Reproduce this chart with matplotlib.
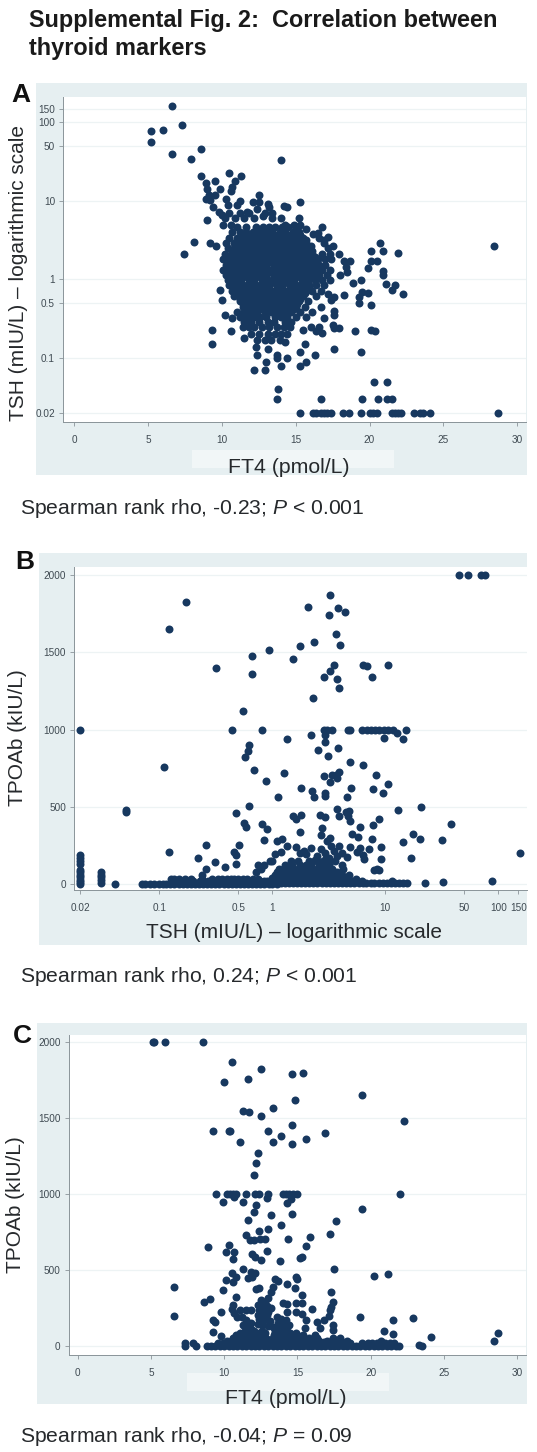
import matplotlib
matplotlib.use("Agg")
import matplotlib.pyplot as plt
from matplotlib.patches import Rectangle

plt.rcParams['font.family'] = ['Liberation Sans', 'DejaVu Sans']
plt.rcParams['mathtext.fontset'] = 'custom'
plt.rcParams['mathtext.rm'] = 'Liberation Sans'
plt.rcParams['mathtext.it'] = 'Liberation Sans:italic'
plt.rcParams['mathtext.bf'] = 'Liberation Sans:bold'

# ---------- labels ----------
title_text = "Supplemental Fig. 2:  Correlation between\nthyroid markers"
caption_a = "Spearman rank rho, -0.23; $\\mathit{P}$ < 0.001"
caption_b = "Spearman rank rho, 0.24; $\\mathit{P}$ < 0.001"
caption_c = "Spearman rank rho, -0.04; $\\mathit{P}$ = 0.09"
ft4_ticks = [0, 5, 10, 15, 20, 25, 30]
tsh_ticks = [0.02, 0.1, 0.5, 1, 10, 50, 100, 150]
tsh_tick_labels = ["0.02", "0.1", "0.5", "1", "10", "50", "100", "150"]
tpo_ticks = [0, 500, 1000, 1500, 2000]

# ---------- panel A: isolated points (FT4, TSH) ----------
ft4_a = [6.6,7.3,5.2,6.0,5.2,6.6,7.9,8.6,14.0,8.6,10.5,11.3,10.9,9.5,8.9,9.0,9.9,10.7,10.6,9.1,9.5,8.9,9.2,10.3,12.5,15.3,11.2,12.1,13.1,14.2,14.4,9.4,10.4,11.0,12.5,12.4,13.2,9.0,9.8,10.0,15.2,12.8,11.7,
 16.8,16.2,17.2,16.9,17.5,8.1,9.2,9.6,7.4,20.7,20.1,20.9,21.9,28.4,20.5,20.1,19.9,18.7,18.3,18.4,18.5,17.9,18.0,20.9,20.9,21.1,21.7,21.5,22.3,19.4,18.9,19.9,19.5,19.3,19.3,20.1,18.3,17.6,17.2,17.4,17.6,17.6,16.7,16.9,17.5,17.9,17.6,19.0,20.1,20.4,
 9.9,10.0,10.2,10.7,9.3,10.6,9.3,11.5,12.3,12.4,13.1,13.0,13.7,13.7,14.4,14.0,12.2,12.9,15.3,15.6,15.7,15.3,16.3,14.3,17.6,19.4,15.5,16.0,16.6,16.4,16.8,
 13.8,13.7,16.7,19.5,20.3,21.2,20.6,21.2,21.5,
 15.3,16.2,16.4,16.7,16.9,17.1,17.4,18.2,18.6,19.4,20.0,20.2,20.5,21.5,21.7,21.9,22.1,23.0,23.4,23.6,24.1,28.7,
 11.4,11.8,12.2,12.7,13.2,13.7,14.2,14.6,12.0,12.5,13.1,13.6,14.0,14.4,12.4,12.9,13.3,13.9,
 10.5,11.2,11.8,12.9,13.4,10.2,10.9,11.5,12.2,13.4,14.0,10.1,10.6,14.3,14.9,15.3,15.7,16.5]
tsh_a = [161,93,77,79,56,40,34,46,33,21,23,21,18,18,17,14,14,15,13.5,11.8,11.8,10.7,10.2,10.5,11.8,9.7,10,9.7,9.2,8.7,8.5,8.4,8.8,8.8,9.7,8,8.4,5.8,7.2,6.6,6.1,6.4,7.2,
 4.6,3.8,3.5,3.2,2.7,3.0,2.9,2.7,2.1,2.9,2.3,2.3,2.2,2.7,1.7,1.7,1.4,1.7,1.7,1.45,1.25,2.1,1.14,1.3,1.14,0.87,0.85,0.73,0.66,0.98,0.89,0.68,0.7,0.6,0.5,0.47,0.63,0.6,0.66,0.55,0.4,0.35,0.45,0.32,0.26,0.24,0.24,0.22,0.23,0.22,
 0.73,0.55,0.35,0.32,0.23,0.22,0.15,0.18,0.14,0.11,0.13,0.09,0.11,0.1,0.1,0.08,0.07,0.07,0.12,0.15,0.09,0.08,0.11,0.16,0.13,0.12,0.23,0.25,0.25,0.22,0.21,
 0.04,0.03,0.03,0.03,0.05,0.05,0.03,0.03,0.03,
 0.02,0.02,0.02,0.02,0.02,0.02,0.02,0.02,0.02,0.02,0.02,0.02,0.02,0.02,0.02,0.02,0.02,0.02,0.02,0.02,0.02,0.02,
 0.25,0.25,0.25,0.25,0.25,0.25,0.25,0.25,0.2,0.2,0.2,0.2,0.2,0.2,0.17,0.17,0.17,0.17,
 7,7,7,7,7,6,6,6,6,6,6,5,5,5,5,5,4.4,3.9]

# panel A: dense core, read as horizontal rows
tsh_a_rows = [4.7,4.0,3.4,2.9,2.5,2.1,1.8,1.55,1.32,1.14,0.98,0.84,0.72,0.62,0.53,0.45,0.39,0.33,0.29,
              3.7,3.15,2.7,2.3,1.95,1.67,1.43,1.23,1.06,0.91,0.78,0.67,0.57,0.49,0.42]
ft4_a_rows = [
 [11.0,11.6,12.3,12.8,13.2,13.6,14.1,14.5,15.0],
 [10.7,11.2,11.6,12.1,12.5,13.0,13.4,13.9,14.3,14.8,15.2],
 [10.5,11.0,11.4,11.9,12.3,12.8,13.2,13.7,14.1,14.6,15.0,15.5,16.6],
 [10.3,10.8,11.2,11.7,12.1,12.6,13.0,13.5,13.9,14.4,14.8,15.3,15.7,16.9],
 [10.4,10.9,11.3,11.8,12.2,12.7,13.1,13.6,14.0,14.5,14.9,15.4,15.8,17.2],
 [10.2,10.7,11.1,11.6,12.0,12.5,12.9,13.4,13.8,14.3,14.7,15.2,15.6,16.1,16.8,17.3],
 [10.1,10.5,11.0,11.4,11.9,12.3,12.8,13.2,13.7,14.1,14.6,15.0,15.5,15.9,16.5,17.0,17.4],
 [10.3,10.8,11.2,11.7,12.1,12.6,13.0,13.5,13.9,14.4,14.8,15.3,15.7,16.1,16.6,17.0],
 [10.1,10.5,11.0,11.4,11.9,12.3,12.8,13.2,13.7,14.1,14.6,15.0,15.5,15.9,16.4,16.8,17.3],
 [10.3,10.8,11.2,11.7,12.1,12.6,13.0,13.5,13.9,14.4,14.8,15.3,15.7,16.2,16.6,17.1],
 [10.4,10.9,11.3,11.8,12.2,12.7,13.1,13.6,14.0,14.5,14.9,15.4,15.8,16.3,16.8,17.3],
 [10.5,11.0,11.4,11.9,12.3,12.8,13.2,13.7,14.1,14.6,15.0,15.5,15.9,16.4,16.9],
 [10.7,11.2,11.7,12.1,12.6,13.0,13.5,13.9,14.4,14.8,15.3,15.7,16.1,16.7],
 [10.8,11.5,11.9,12.4,12.8,13.3,13.7,14.2,14.6,15.1,15.5,16.4],
 [11.2,11.6,12.1,12.5,13.0,13.4,13.9,14.3,14.8,15.2,15.8],
 [11.4,11.8,12.3,12.7,13.2,13.6,14.1,14.5,15.0,15.6],
 [11.0,11.5,12.0,12.4,12.9,13.3,13.8,14.2,14.7,15.3,16.1],
 [11.2,11.7,12.2,12.6,13.0,13.6,14.0,14.4,15.0,15.7],
 [11.5,12.0,12.5,13.1,13.5,14.3,14.7],
 [11.3,11.8,12.2,12.7,13.1,13.6,14.0,14.5,14.9,15.3],
 [11.0,11.5,12.0,12.4,12.9,13.3,13.8,14.2,14.7,15.2,15.7],
 [10.9,11.4,11.9,12.3,12.8,13.2,13.7,14.1,14.6,15.0,15.5,16.0],
 [10.7,11.2,11.6,12.1,12.5,13.0,13.4,13.9,14.3,14.8,15.2,15.7,16.1],
 [10.8,11.3,11.8,12.2,12.7,13.1,13.6,14.0,14.5,14.9,15.4,15.8,16.3],
 [10.6,11.1,11.5,12.0,12.4,12.9,13.3,13.8,14.2,14.7,15.1,15.6,16.0,16.4],
 [10.7,11.2,11.7,12.1,12.6,13.0,13.5,13.9,14.4,14.8,15.3,15.7,16.2],
 [10.6,11.1,11.5,12.0,12.4,12.9,13.3,13.8,14.2,14.7,15.1,15.6,16.0,16.4],
 [10.7,11.2,11.7,12.1,12.6,13.0,13.5,13.9,14.4,14.8,15.3,15.7,16.2],
 [10.8,11.3,11.8,12.2,12.7,13.1,13.6,14.0,14.5,14.9,15.4,15.8],
 [10.9,11.4,11.9,12.3,12.8,13.2,13.7,14.1,14.6,15.0,15.5,15.9],
 [11.1,11.6,12.0,12.5,12.9,13.4,13.8,14.3,14.7,15.2,15.6],
 [11.2,11.7,12.2,12.6,13.1,13.5,14.0,14.4,14.9,15.3],
 [11.4,11.9,12.4,12.8,13.3,13.7,14.2,14.6,15.1],
 [11.6,12.1,12.6,13.0,13.5,13.9,14.4,14.9],
]

# ---------- panel B: isolated points (TSH, TPOAb) ----------
tsh_b = [45,54,70.5,75.7,0.172,0.121,3.23,2.07,3.16,3.84,4.36,3.69,3.93,2.33,1.76,0.926,0.658,0.658,1.51,0.316,3.51,3.27,2.85,3.77,3.9,6.35,6.81,7.57,10.5,2.28,0.552,
 0.02,0.442,0.811,2.85,3.05,3.34,4.7,4.9,6.26,6.81,7.41,8.11,8.82,9.66,10.5,11.7,15.2,12.8,14.2,9.8,1.34,2.18,2.95,2.95,0.622,0.614,0.573,3.82,2.56,3.12,4.84,6.35,0.111,0.686,1.26,0.881,2.87,3.34,3.64,3.9,3.77,3.21,8.28,10.5,1.8,4.94,7.72,9.46,2.26,2.33,2.9,2.9,1.13,4.58,
 0.622,0.481,20.7,0.0508,0.0508,3.71,4.8,4.48,13,1.52,1.81,1.63,2.66,2.95,3.9,4.64,4.88,8.75,7.83,38.2,0.56,0.58,0.817,0.9,2.75,5.93,1.74,5.05,5.72,17.5,20.1,31.6,14.2,7.67,0.84,1.09,1.21,2.71,3.27,3.05,
 0.26,0.505,9.2,5.93,7.2,0.121,154,0.46,0.48,0.22,0.312,0.382,0.48,0.26,0.239,16.9,9.12,8.4,7.95,8.7,88,32.3,22.3,
 0.02,0.02,0.02,0.02,0.02,0.02,0.02,0.02,0.02,0.02,0.02,0.0305,0.0305,0.0305,0.0305,0.0305,0.0409,
 1.62,1.9,2.0,2.2,2.5,2.7,2.9,3.0,3.3,3.5,3.7,3.9,4.1,4.6,4.9,5.6,6.3,1.2,1.35,1.05,2.4,3.2,1.75,6.5]
tpo_b = [2000,2000,2000,2000,1825,1649,1868,1793,1739,1789,1759,1618,1545,1567,1539,1515,1478,1360,1455,1399,1416,1381,1343,1330,1269,1418,1414,1343,1416,1207,1123,
 1000,1000,1000,1000,1000,1000,1000,1000,1000,1000,1000,1000,1000,1000,1000,1000,1000,980,940,948,940,965,965,922,899,864,821,881,871,830,793,774,761,737,720,666,698,705,707,728,685,664,705,649,625,625,619,588,603,565,588,573,565,567,
 504,463,502,470,478,489,476,470,481,444,448,422,448,433,444,444,409,420,384,388,394,368,388,356,366,368,338,328,308,323,295,284,276,291,289,282,291,319,302,280,
 254,256,241,233,228,211,200,211,190,168,147,110,131,97,60,172,162,99,93,93,24,17,6,
 190,170,150,130,95,80,60,45,30,15,5,80,60,45,30,10,3,
 240,215,195,235,180,230,205,170,250,215,185,245,200,175,240,210,190,210,250,195,160,170,200,165]

# panel B: dense band, read as rows
tpo_b_levels = [4, 8, 20, 35, 40, 60, 80, 100, 125, 150, 50, 70, 90]
tsh_b_rows = [
 [0.0705,0.075,0.083,0.09,0.1,0.107,0.115,0.125,0.136,0.148,0.161,0.175,0.19,0.207,0.225,0.244,0.265,0.288,0.313,0.34,0.37,0.402,0.437,0.475,0.516,0.56,0.61,0.663,0.72,0.783,0.85,0.925,1,1.09],
 [1.19,1.29,1.4,1.52,1.65,1.8,1.95,2.12,2.31,2.5,2.73,2.96,3.22,3.5,3.8,4.14,4.5,4.9,5.3,5.8,6.3,6.8,7.4,8,8.7,9.5,10.3,11.2,12.2,13.2,14.4,15.6],
 [0.13,0.16,0.2,0.23,0.27,0.31,0.35,0.39,0.44,0.49,0.55,0.62,0.7,0.78,0.85,0.9,1,1.1,1.2,1.32,1.45,1.6,1.76,1.94,2.13,2.35,2.6,2.85,3.1,3.4,3.75,4.1,4.5,5.0,6.2,11.5],
 [0.126,0.135,0.15,0.17,0.19,0.24,0.29,0.33,0.36,0.4,0.43,0.46,0.5,0.55,0.6,0.68,0.75,5.5],
 [1.0,1.1,1.2,1.32,1.45,1.6,1.76,1.94,2.13,2.35,2.6,2.85,3.1,3.4,3.75,4.1,4.5],
 [1.05,1.15,1.27,1.4,1.53,1.68,1.85,2.03,2.24,2.47,2.72,3.0,3.25,3.6,4.1,4.8],
 [0.72,1.1,1.2,1.3,1.42,1.55,1.7,1.85,2.0,2.2,2.4,2.65,2.9,3.2,3.7],
 [0.8,1.15,1.27,1.4,1.53,1.68,1.85,2.1,2.3,2.55,2.8,3.1,3.4,4.2],
 [0.74,0.85,1.3,1.5,1.75,2.0,2.2,2.6,2.9,3.2,4.1],
 [0.95,1.0,1.45,1.7,2.1,2.5,2.8,3.1,3.6],
 [1.1,1.25,1.4,1.55,1.72,1.9,2.1,2.3,2.55,2.8,3.1,3.5],
 [1.12,1.28,1.45,1.6,1.78,1.95,2.15,2.35,2.6,2.95,3.3],
 [1.2,1.35,1.5,1.65,1.8,2.0,2.25,2.45,2.7,3.0],
]

# ---------- panel C: isolated points (FT4, TPOAb) ----------
ft4_c = [5.15,5.2,5.96,8.56,10.5,12.5,15.4,14.6,11.6,10,19.4,14.8,13.35,11.3,11.7,12.5,22.3,14.6,9.2,10.3,10.4,13,16.9,13.9,15.6,11.1,13.3,14.6,12.3,12.2,12,
 9.45,10.2,10.4,10.6,10.8,11.5,12.1,12.35,13,14,14.2,14.45,14.7,15,22,
 9.9,11.3,10.7,12.9,14.3,14.55,12.15,19.4,12,13.2,14.65,17.6,11.6,13.9,13,12.4,17.2,15.85,14.35,11.5,11.76,12,12.45,12.75,8.9,10.35,15.6,10.1,10.7,12.9,11.9,12.1,12.5,13.8,10.6,15.3,15.15,
 11.3,11.8,12.1,17.5,10.5,10.8,10.1,10.6,11.6,11.9,20.25,21.2,13.5,13.7,14.9,15,14.3,14.85,6.6,9.9,12.2,12.4,13.3,13.2,15.3,17.3,10.8,9,8.6,12.5,12.8,13,17.4,17.3,17.25,
 14,14.3,14.9,15.3,10.6,10.5,16,11.1,11.5,11.85,9.75,10.7,10.9,19.25,22.9,21.5,6.6,9.2,9.4,14.9,15.3,15.6,17.15,16.8,16.3,14.3,17.4,16.55,15.5,17.4,9.2,9.8,20.9,21.5,24.1,28.7,28.4,23.3,23.5,7.3,7.3,7.9,8.05,
 12.3,12.6,12.9,13.2,12.4,12.7,13.0,12.3,12.6,12.9,12.4,12.7,13.1,12.3,12.6,13.0,13.3,11.2,11.5,11.8,11.3,11.7,11.5,11.8,13.6,13.9,14.2,13.7,14.0,14.4,13.6,14.0]
tpo_c = [2000,2000,2000,2000,1873,1826,1796,1789,1758,1741,1650,1620,1567,1547,1543,1516,1479,1453,1418,1418,1418,1418,1400,1385,1360,1345,1345,1327,1273,1207,1125,
 1000,1000,1000,1000,1000,1000,1000,1000,1000,1000,1000,1000,1000,1000,1000,
 945,947,982,971,938,967,925,901,879,862,870,820,829,796,769,758,736,719,703,730,697,697,703,703,648,664,659,620,620,622,604,587,565,560,569,587,576,
 503,488,477,503,477,450,433,422,444,451,462,473,440,426,455,437,407,382,387,369,371,382,389,356,334,352,323,305,290,301,290,312,290,257,235,
 279,272,279,283,268,240,240,235,235,235,224,213,191,191,185,169,198,169,158,224,209,169,196,169,158,224,136,114,114,103,92,64,99,75,59,81,33,4,0,20,0,20,0,
 270,265,260,250,235,230,225,205,205,200,175,170,165,145,140,130,125,190,170,150,135,130,115,110,190,175,170,150,145,140,120,115]

# panel C: dense band, read as rows
tpo_c_levels = [0, 15, 32, 50, 68, 85, 100, 24, 42, 60]
ft4_c_rows = [
 [8.85,9.1,9.4,9.7,10,10.3,10.6,10.9,11.2,11.5,11.8,12.1,12.4,12.7,13,13.3,13.6,13.9,14.2,14.5,14.8,15.1,15.4,15.7,16,16.3,16.6,16.9,17.2,17.5,17.8,18.1,18.4,18.7,19,19.3,19.6,19.9,20.2,20.5,20.8,21.1,21.4,21.7,21.9],
 [9.6,9.9,10.2,10.5,10.8,11.1,11.4,11.7,12,12.3,12.6,12.9,13.2,13.5,13.8,14.1,14.4,14.7,15,15.3,15.6,15.9,16.2,16.5,16.8,17.1,17.4,17.7,18,18.3,18.6,19.4,19.8,20.1,20.4,20.7,21,21.3,21.6],
 [10.2,10.5,10.8,11,11.3,11.6,11.9,12.2,12.5,12.8,13.2,13.5,13.8,14.1,14.4,14.7,15,15.3,15.6,16,16.5,17,17.5,18,18.4,20.7],
 [10.6,10.9,11.2,11.5,11.8,12.1,12.4,12.7,13.3,13.6,13.9,14.2,14.5,14.8,15.2,15.8,16.3,17.4,17.9],
 [10.8,11.2,11.5,11.8,12.1,12.4,12.7,13.4,13.7,14,14.3,14.6,15,15.4,16.2],
 [11.1,11.6,12,12.4,12.8,13.5,13.8,14.1,14.5,14.9],
 [11.4,12,12.6,13.5,13.9,14.3],
 [10.3,10.7,11,11.4,11.7,12,12.3,12.6,12.9,13.2,13.5,13.8,14.1,14.4,14.7,15,15.4,15.8,16.3,16.8,17.3,17.8],
 [10.6,11,11.4,11.7,12,12.3,12.6,12.9,13.5,13.8,14.1,14.4,14.7,15.1],
 [10.8,11.3,11.7,12,12.3,12.6,13.5,13.8,14.1,14.4,14.8],
]

# ---------- layout helpers ----------
W, H = 537, 1452
NAVY = '#17385f'
BG = '#e6eff1'
GRID = '#edf3f4'
AXIS = '#8a9499'
TICK = '#3f4a52'

fig = plt.figure(figsize=(W / 100, H / 100), dpi=100, facecolor='white')

def fx(x):
    return x / W

def fy(y):
    return 1 - y / H

def backdrop(l, t, r, b, color=BG):
    fig.add_artist(Rectangle((fx(l), fy(b)), (r - l) / W, (b - t) / H,
                             transform=fig.transFigure, facecolor=color,
                             edgecolor='none', zorder=-5))

def panel(l, t, r, b, xlim, ylim, xticks, yticks, xlog=False, ylog=False,
          xlabels=None, ylabels=None):
    ax = fig.add_axes([fx(l), fy(b), (r - l) / W, (b - t) / H])
    ax.set_facecolor('white')
    if xlog:
        ax.set_xscale('log')
    if ylog:
        ax.set_yscale('log')
    ax.set_xlim(*xlim)
    ax.set_ylim(*ylim)
    ax.set_xticks(xticks)
    ax.set_xticklabels(xlabels if xlabels else [str(v) for v in xticks])
    ax.set_yticks(yticks)
    ax.set_yticklabels(ylabels if ylabels else [str(v) for v in yticks])
    ax.minorticks_off()
    for s in ('top', 'right'):
        ax.spines[s].set_visible(False)
    for s in ('left', 'bottom'):
        ax.spines[s].set_color(AXIS)
        ax.spines[s].set_linewidth(0.7)
    ax.tick_params(axis='both', length=3.2, width=0.6, color=AXIS,
                   labelcolor=TICK, labelsize=7.2, pad=2.5)
    ax.tick_params(axis='x', pad=6)
    ax.grid(True, axis='y', color=GRID, linewidth=0.9)
    ax.set_axisbelow(True)
    return ax

def dots(ax, xs, ys):
    ax.scatter(xs, ys, s=33, color=NAVY, linewidths=0, zorder=3, clip_on=False)

def label(x, y, s, **kw):
    fig.text(fx(x), fy(y), s, ha=kw.pop('ha', 'center'), va=kw.pop('va', 'center'),
             color=kw.pop('color', '#26292c'), **kw)

# ---------- backgrounds ----------
backdrop(36, 83, 527, 475)
backdrop(192, 450, 394, 468, '#f1f6f7')
backdrop(39, 553, 527, 945)
backdrop(37, 1023, 527, 1404)
backdrop(187, 1373, 389, 1391, '#f1f6f7')

# ---------- panel A ----------
axA = panel(63, 97, 526, 422, (-0.77, 30.6), (0.0153, 211), ft4_ticks, tsh_ticks,
            ylog=True, ylabels=tsh_tick_labels)
dots(axA, ft4_a, tsh_a)
for level, row in zip(tsh_a_rows, ft4_a_rows):
    dots(axA, row, [level] * len(row))

# ---------- panel B ----------
axB = panel(74, 567, 527, 890, (0.0176, 179), (-37, 2052), tsh_ticks, tpo_ticks,
            xlog=True, xlabels=tsh_tick_labels)
dots(axB, tsh_b, tpo_b)
for level, row in zip(tpo_b_levels, tsh_b_rows):
    dots(axB, row, [level] * len(row))

# ---------- panel C ----------
axC = panel(68.5, 1035, 526, 1355, (-0.63, 30.6), (-61, 2048), ft4_ticks, tpo_ticks)
dots(axC, ft4_c, tpo_c)
for level, row in zip(tpo_c_levels, ft4_c_rows):
    dots(axC, row, [level] * len(row))

# ---------- texts ----------
label(29, 20, title_text.split("\n")[0], ha='left', fontsize=16.9, fontweight='bold', color='#1a1a1a')
label(29, 49, title_text.split("\n")[1], ha='left', fontsize=16.9, fontweight='bold', color='#1a1a1a')

label(21, 95, "A", fontsize=19, fontweight='bold', color='#111111')
label(25, 562, "B", fontsize=19, fontweight='bold', color='#111111')
label(22, 1036, "C", fontsize=19, fontweight='bold', color='#111111')

label(289, 467, "FT4 (pmol/L)", fontsize=15.3)
label(19, 273, "TSH (mIU/L) – logarithmic scale", fontsize=15, rotation=90)
label(294.5, 933, "TSH (mIU/L) – logarithmic scale", fontsize=15)
label(18, 738, "TPOAb (kIU/L)", fontsize=15, rotation=90)
label(286, 1398, "FT4 (pmol/L)", fontsize=15.3)
label(16, 1205, "TPOAb (kIU/L)", fontsize=15, rotation=90)

label(20, 508, caption_a, ha='left', fontsize=15.2)
label(20, 977, caption_b, ha='left', fontsize=15.2)
label(20, 1437, caption_c, ha='left', fontsize=15.2)

fig.savefig("out.png", dpi=100, facecolor='white')
